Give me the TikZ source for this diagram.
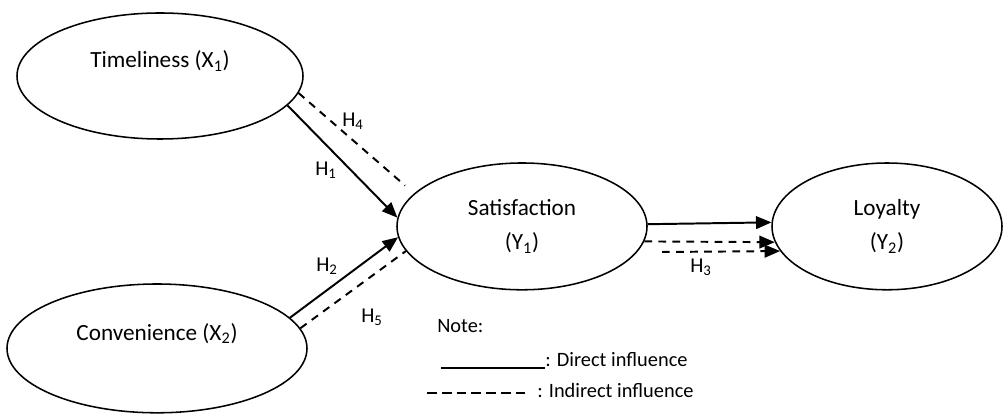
\documentclass[tikz,border=0pt]{standalone}
\usepackage{fontspec}
\setmainfont{Carlito}
\usetikzlibrary{arrows.meta,shapes.geometric,positioning,calc}

\begin{document}
\begin{tikzpicture}[
    lat/.style={draw, ellipse, line width=1.1pt, inner sep=0pt, align=center, font=\fontsize{16.5}{24}\selectfont},
    arr/.style={-{Triangle[length=11pt, width=9pt]}, line width=1.4pt},
    ind/.style={line width=1.4pt, dash pattern=on 5.5pt off 4.5pt},
    lbl/.style={font=\fontsize{15}{18}\selectfont, inner sep=0pt},
    note/.style={font=\fontsize{14.5}{17}\selectfont, inner sep=0pt, anchor=west}
]
\useasboundingbox (0,0) rectangle (25.2,10.4);

% latent variables
\node[lat, minimum width=7.15cm, minimum height=3.15cm] (time) at (4.0,8.5) {Timeliness (X\textsubscript{1})\\~};
\node[lat, minimum width=7.5cm, minimum height=3.22cm] (conv) at (3.925,1.69) {Convenience (X\textsubscript{2})\\~};
\node[lat, minimum width=6.25cm, minimum height=3.17cm] (sat) at (13.05,4.74) {Satisfaction\\(Y\textsubscript{1})};
\node[lat, minimum width=5.75cm, minimum height=3.17cm] (loy) at (22.175,4.74) {Loyalty\\(Y\textsubscript{2})};

% paths
\draw[arr] (time.-13.6) -- (sat.176);
\draw[ind, shorten >=0.3cm] (time.-7.4) -- (sat.163);
\draw[arr] (conv.13.5) -- (sat.185);
\draw[ind] (conv.8.3) -- (sat.192.8);
\draw[arr] (sat.1) -- (loy.178);
\draw[ind, -{Triangle[length=11pt, width=9pt]}] (sat.-7.6) -- (loy.188.4);
\coordinate (h3s) at (16.55,4.1);
\draw[ind, -{Triangle[length=11pt, width=9pt]}] (h3s) -- (loy.193);

% hypothesis labels
\node[lbl] (h4) at (8.825,7.375) {H\textsubscript{4}};
\node[lbl] (h1) at (8.15,6.15) {H\textsubscript{1}};
\node[lbl] (h2) at (8.175,3.75) {H\textsubscript{2}};
\node[lbl] (h5) at (9.3,2.475) {H\textsubscript{5}};
\node[lbl] (h3) at (17.525,3.725) {H\textsubscript{3}};

% legend
\node[note] (nt) at (10.925,2.25) {Note:};
\node[note] (dir) at (13.625,1.4) {: Direct influence};
\node[note] (indir) at (13.425,0.625) {: Indirect influence};
\coordinate (dl) at (11.025,1.2);
\coordinate (il) at (10.675,0.575);
\coordinate (ir) at (13.25,0.575);
\draw[line width=1.4pt] (dl) -- (dl -| dir.west);
\draw[line width=1.4pt, dash pattern=on 7pt off 3.5pt] (il) -- (ir);
\end{tikzpicture}
\end{document}
